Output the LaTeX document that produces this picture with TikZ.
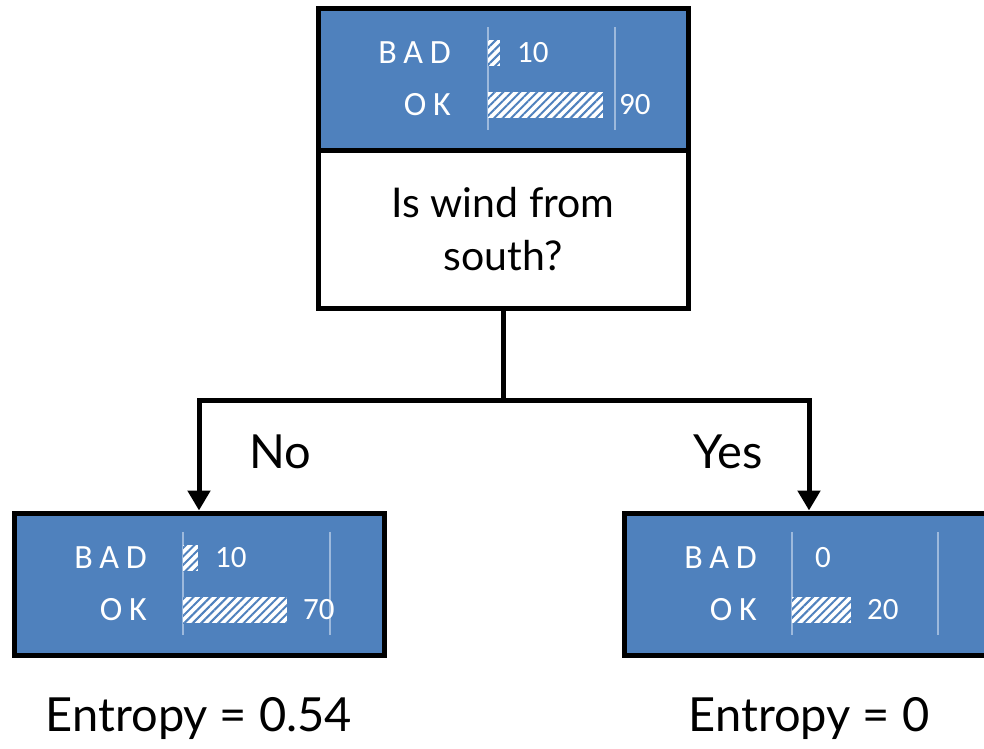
\documentclass[tikz,border=0pt]{standalone}
\usepackage{fontspec}
\setmainfont{Lato}
\newfontfamily\chartfont{Carlito}
\usetikzlibrary{arrows.meta,patterns.meta,positioning}

\definecolor{boxblue}{HTML}{4F81BD}
\definecolor{gridblue}{HTML}{9DB9DC}

\tikzset{
    leafbox/.style={draw=black, line width=5pt, fill=boxblue,
        minimum width=370pt, minimum height=142pt, inner sep=0pt},
    askbox/.style={draw=black, line width=5pt, fill=white, align=center,
        minimum width=370pt, minimum height=158pt, inner sep=0pt,
        font=\fontsize{41}{53}\selectfont},
    branch/.style={line width=5pt, -{Triangle[width=22pt,length=20pt]}},
    hbar/.style={fill=white, pattern={Lines[angle=45,distance=6pt,line width=2pt]},
        pattern color=boxblue},
    classlabel/.style={text=white, anchor=east, inner sep=0pt,
        font=\chartfont\fontsize{34}{34}\selectfont\addfontfeature{LetterSpace=20}},
    countlabel/.style={text=white, anchor=west, inner sep=0pt,
        font=\chartfont\fontsize{31}{31}\selectfont},
    biglabel/.style={font=\fontsize{47}{47}\selectfont, inner sep=0pt}
}

% bar panel inside a blue box: box, axis x, grid x, bad bar, bad count, ok bar, ok count
\newcommand\barpanel[7]{
    \begin{scope}[shift={(#1.north west)}, shift={(2.5,2.5)}]
        \node[classlabel] at (133,45) {BAD};
        \node[classlabel] at (133,97) {OK};
        \draw[gridblue, line width=1.5pt] (#2,19) -- (#2,122);
        \draw[gridblue, line width=1.5pt] (#3,19) -- (#3,122);
        \ifdim #4pt>0pt \fill[white] (#2,32) rectangle ++(#4,26);
        \path[hbar] (#2,32) rectangle ++(#4,26); \fi
        \fill[white] (#2,84) rectangle ++(#6,26);
        \path[hbar] (#2,84) rectangle ++(#6,26);
        \node[countlabel] at ({#2+#4+(#4>0 ? 17 : 23)},45) {#5};
        \node[countlabel] at (#2+#6+16,97) {#7};
    \end{scope}
}

\begin{document}
\begin{tikzpicture}[x=1pt, y=-1pt]
    \useasboundingbox (0,0) rectangle (984,748);

    \node[leafbox] (root) at (503,79) {};
    \node[askbox] (ask) at (503,229) {Is wind from\\south?};
    \node[leafbox] (noleaf) at (199,584) {};
    \node[leafbox] (yesleaf) at (809,584) {};

    \barpanel{root}{170}{297}{12}{10}{115}{90}
    \barpanel{noleaf}{169}{316}{15}{10}{104}{70}
    \barpanel{yesleaf}{168}{314}{0}{0}{59}{20}

    % split below the question
    \coordinate (split) at (503,400);
    \draw[line width=5pt] (ask.south) -- (split);
    \draw[branch] (split) -| (noleaf.north);
    \draw[branch] (split) -| (yesleaf.north);
    \node[biglabel] (no) at (280,452) {No};
    \node[biglabel] (yes) at (728,452) {Yes};

    \node[biglabel] (noent) at (199,718) {Entropy = 0.54};
    \node[biglabel] (yesent) at (809,718) {Entropy = 0};
\end{tikzpicture}
\end{document}
